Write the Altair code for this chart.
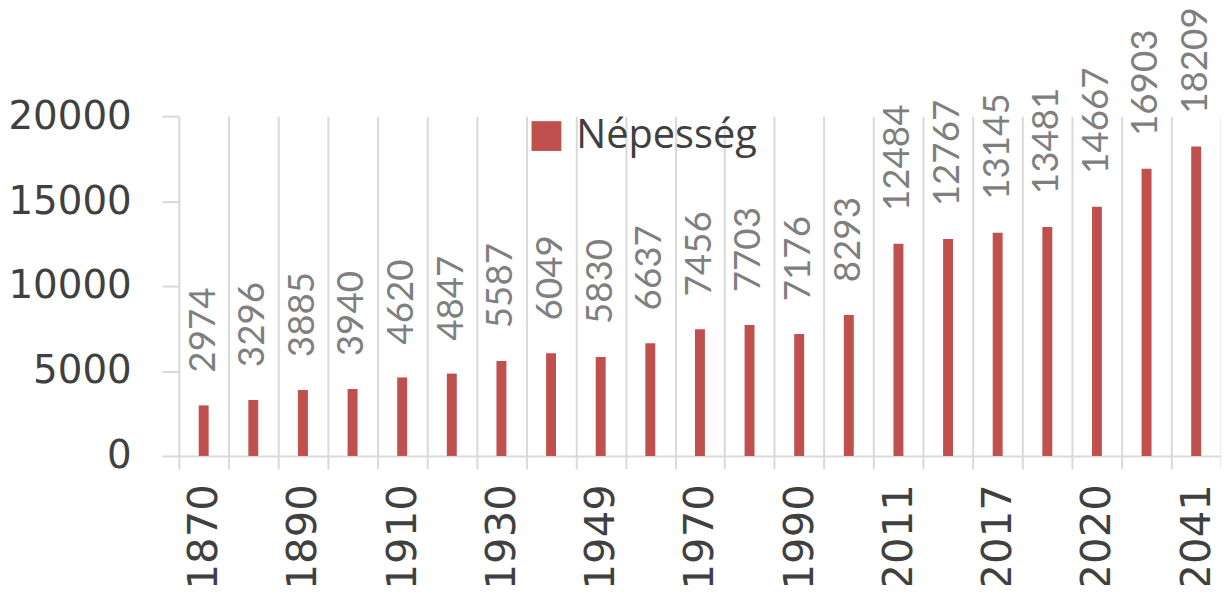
import altair as alt
import pandas as pd

years = ['1870', '1880', '1890', '1900', '1910', '1920', '1930', '1941', '1949', '1960',
         '1970', '1980', '1990', '2001', '2011', '2015', '2017', '2019', '2020', '2030', '2041']
population = [2974, 3296, 3885, 3940, 4620, 4847, 5587, 6049, 5830, 6637,
              7456, 7703, 7176, 8293, 12484, 12767, 13145, 13481, 14667, 16903, 18209]
shown_labels = ['1870', '1890', '1910', '1930', '1949', '1970', '1990', '2011', '2017', '2020', '2041']
series_name = 'Népesség'
y_ticks = [0, 5000, 10000, 15000, 20000]

df = pd.DataFrame({'year': years, 'pop': population, 'series': [series_name] * len(years)})

label_expr = ("indexof([" + ",".join(f"'{s}'" for s in shown_labels) +
              "], datum.label) >= 0 ? datum.label : ''")

grid_col = '#d9d9d9'

x = alt.X('year:N', sort=years, title=None,
          scale=alt.Scale(paddingInner=0, paddingOuter=0),
          axis=alt.Axis(labelAngle=270, labelExpr=label_expr, tickBand='extent',
                        grid=True, gridColor=grid_col, gridWidth=2,
                        domainColor=grid_col, domainWidth=2,
                        tickColor=grid_col, tickWidth=2, tickSize=13,
                        labelPadding=15, labelFont='DejaVu Sans', labelFontSize=42,
                        labelColor='#404040', labelAlign='right', labelBaseline='middle',
                        labelLimit=0))

y = alt.Y('pop:Q', title=None, scale=alt.Scale(domain=[0, 20000]),
          axis=alt.Axis(values=y_ticks, format='d', grid=False, domain=False,
                        tickColor=grid_col, tickWidth=2, tickSize=17,
                        labelPadding=31, labelFont='DejaVu Sans', labelFontSize=39,
                        labelColor='#404040'))

base = alt.Chart(df)

bars = base.mark_bar(size=10).encode(
    x=x, y=y,
    color=alt.Color('series:N', scale=alt.Scale(range=['#c0504d']),
                    legend=alt.Legend(title=None, orient='none', legendX=350, legendY=0,
                                      symbolType='square', symbolSize=900,
                                      symbolStrokeWidth=0, symbolOpacity=1,
                                      labelFont='Open Sans', labelFontSize=40,
                                      labelColor='#404040', labelOffset=10,
                                      labelLimit=0)))

labels = base.mark_text(angle=270, align='left', baseline='middle', dx=33,
                        font='Lato', fontSize=37, color='#7f7f7f').encode(
    x=x, y=y, text=alt.Text('pop:Q', format='d'))

chart = alt.layer(bars, labels).properties(
    width=1049, height=342,
    padding={'left': 172, 'top': 107, 'right': 0, 'bottom': 128},
    autosize=alt.AutoSizeParams(type='none'),
    background='white'
).configure_view(stroke=None)

chart.save("out.html", embed_options={"renderer": "svg", "actions": False})
